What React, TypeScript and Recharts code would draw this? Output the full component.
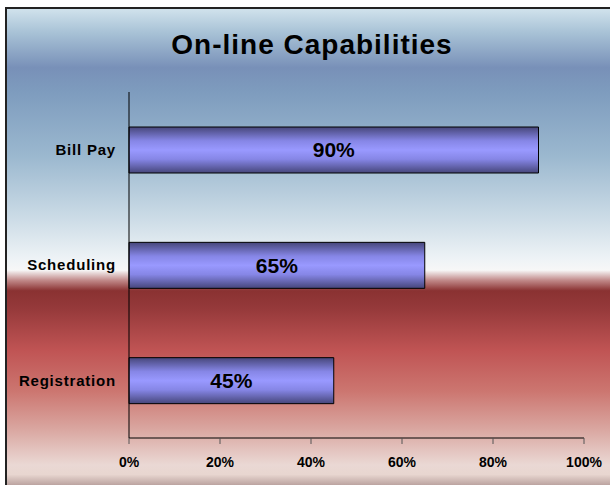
import React from 'react';
import { BarChart, Bar, XAxis, YAxis, LabelList } from 'recharts';

const categories = ['Bill Pay', 'Scheduling', 'Registration'];
const values = [90, 65, 45];
const xTicks = [0, 20, 40, 60, 80, 100];

const data = categories.map((name, i) => ({ name, value: values[i] }));

const font = 'Arial, "Liberation Sans", sans-serif';

const App: React.FC = () => {
    return (
        <div style={{ position: 'absolute', left: 0, top: 0, width: 610, height: 485, overflow: 'hidden', background: '#fff' }}>
            <div
                style={{
                    position: 'absolute',
                    left: 5,
                    top: 7,
                    width: 620,
                    height: 490,
                    borderLeft: '2px solid #222',
                    borderTop: '2px solid #222',
                    background:
                        'linear-gradient(to bottom, #d0e2ec 0%, #a8c2d6 4.8%, #7890b8 12%, #7e9cbe 17%, #9bb8cf 30%, #cbdbe6 42.5%, #eef3f6 51%, #f7f7f7 53.3%, #c08888 55.4%, #8a3232 57.5%, #95393a 61%, #c05454 69.7%, #cc7670 78%, #daa8a2 86%, #ead8d4 93%, #e8d6d0 95%, #806060 100%)',
                }}
            />
            <div
                style={{
                    position: 'absolute',
                    left: 0,
                    top: 29,
                    width: 624,
                    textAlign: 'center',
                    fontFamily: font,
                    fontWeight: 'bold',
                    fontSize: 28,
                    letterSpacing: 1,
                    color: '#000',
                }}
            >
                On-line Capabilities
            </div>
            <div style={{ position: 'absolute', left: 0, top: 0 }}>
                <BarChart
                    width={610}
                    height={485}
                    data={data}
                    layout="vertical"
                    margin={{ top: 92, right: 26, left: 0, bottom: 17 }}
                    barCategoryGap={0}
                >
                    <defs>
                        <linearGradient id="barFill" x1="0" y1="0" x2="0" y2="1">
                            <stop offset="0%" stopColor="#46467a" />
                            <stop offset="30%" stopColor="#8686e6" />
                            <stop offset="50%" stopColor="#9999ff" />
                            <stop offset="70%" stopColor="#8686e6" />
                            <stop offset="100%" stopColor="#46467a" />
                        </linearGradient>
                    </defs>
                    <XAxis
                        type="number"
                        domain={[0, 100]}
                        ticks={xTicks}
                        tickFormatter={(v: number) => `${v}%`}
                        height={30}
                        stroke="#000"
                        tickLine={{ stroke: '#555' }}
                        tickSize={6}
                        tickMargin={13}
                        tick={{ fill: '#000', fontSize: 14, fontWeight: 'bold', fontFamily: font }}
                        interval={0}
                    />
                    <YAxis
                        type="category"
                        dataKey="name"
                        width={129}
                        stroke="#000"
                        tickLine={false}
                        tickSize={0}
                        tickMargin={13}
                        tick={{ fill: '#000', fontSize: 15, fontWeight: 'bold', fontFamily: font, letterSpacing: 0.8 }}
                    />
                    <Bar dataKey="value" fill="url(#barFill)" stroke="#000" strokeWidth={1} barSize={46} isAnimationActive={false}>
                        <LabelList
                            dataKey="value"
                            position="center"
                            formatter={(v: number) => `${v}%`}
                            style={{ fill: '#000', fontSize: 21, fontWeight: 'bold', fontFamily: font }}
                        />
                    </Bar>
                </BarChart>
            </div>
        </div>
    );
};

export default App;
